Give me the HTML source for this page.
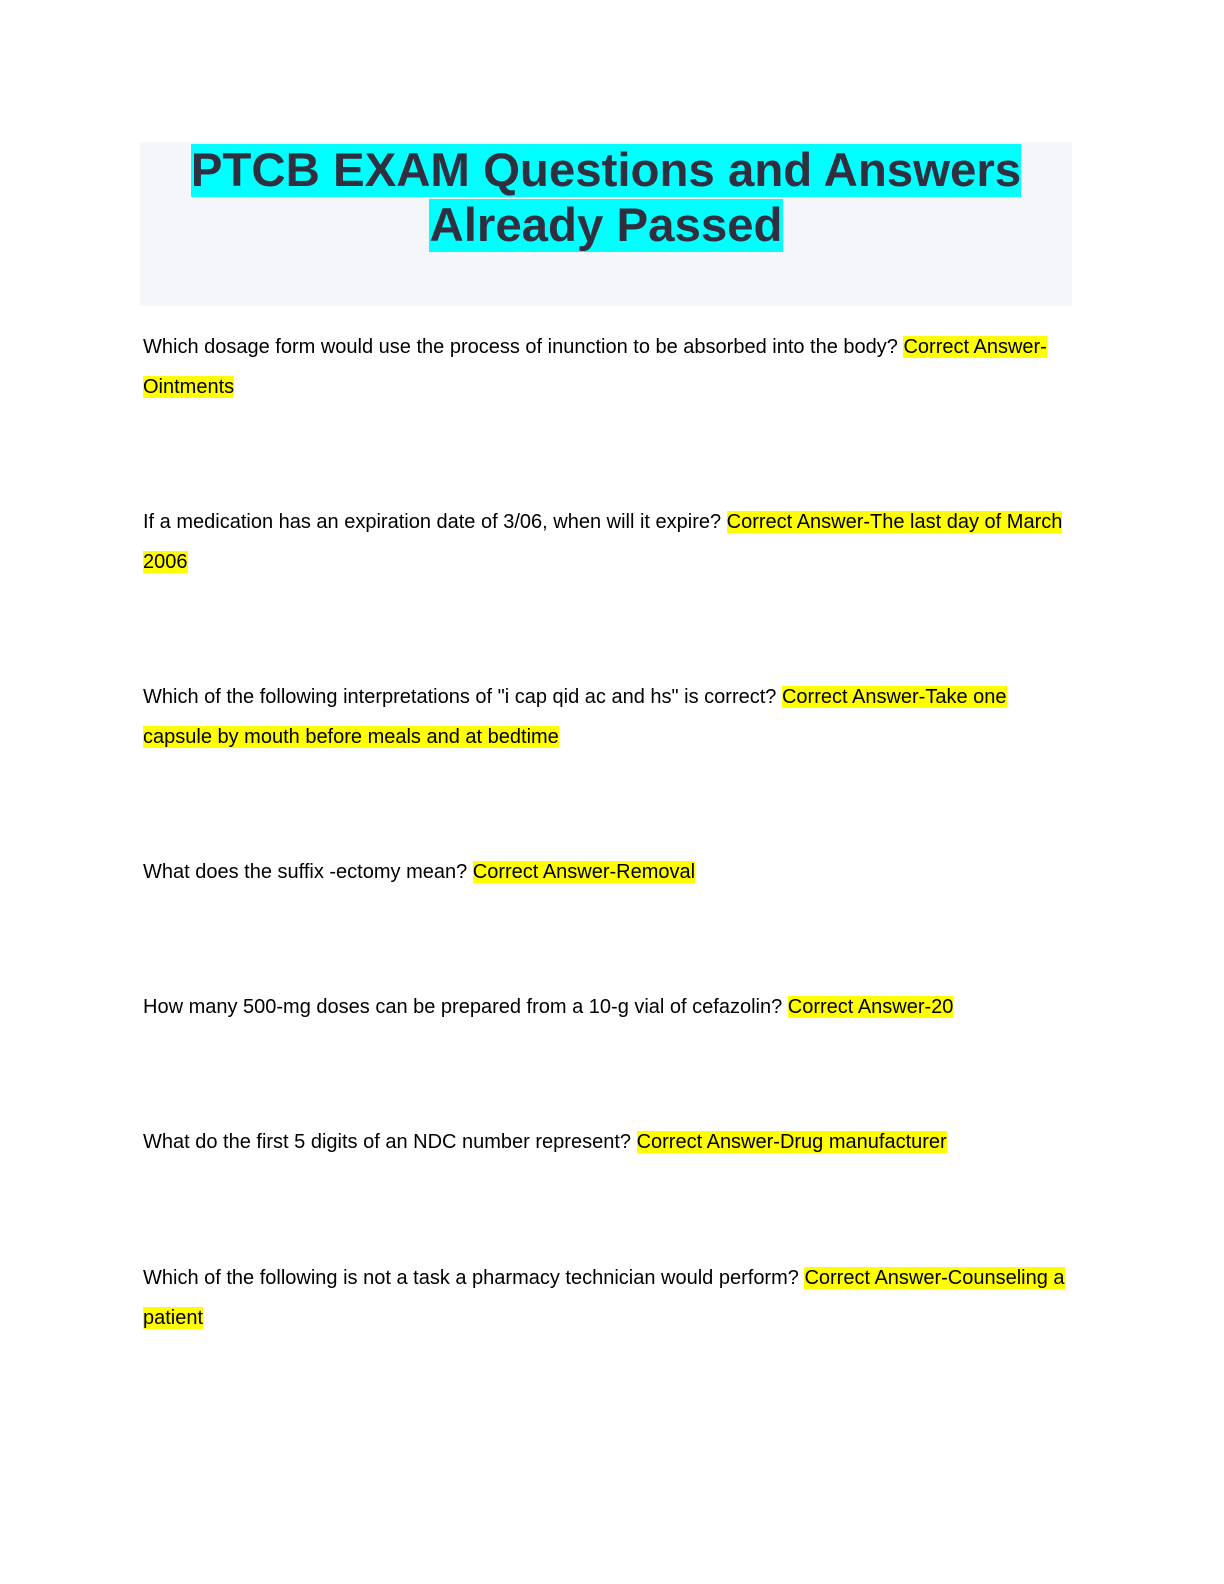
<!DOCTYPE html>
<html><head><meta charset="utf-8"><style>
body{margin:0;width:1224px;height:1584px;background:#fff;position:relative;overflow:hidden}
.tbox{position:absolute;left:140px;top:142px;width:932px;height:164px;background:#f5f6fa}
.t{position:absolute;left:140px;width:932px;text-align:center;font-family:"Liberation Sans",sans-serif;font-weight:bold;font-size:47.4px;color:#2f2f3f;line-height:55px}
.t span{background:#00ffff}
.l{position:absolute;left:143px;font-family:"Liberation Sans",sans-serif;font-size:20px;line-height:27px;height:27px;color:#000;white-space:nowrap}
.h{background:#ffff00}
</style></head><body>
<div class="tbox"></div>
<div class="t" style="top:143px"><span>PTCB EXAM Questions and Answers</span></div>
<div class="t" style="top:198px"><span>Already Passed</span></div>

<div class="l" style="top:334px">Which dosage form would use the process of inunction to be absorbed into the body? <span class="h">Correct Answer-</span></div>
<div class="l" style="top:374px"><span class="h">Ointments</span></div>

<div class="l" style="top:509px">If a medication has an expiration date of 3/06, when will it expire? <span class="h">Correct Answer-The last day of March</span></div>
<div class="l" style="top:549px"><span class="h">2006</span></div>

<div class="l" style="top:684px">Which of the following interpretations of "i cap qid ac and hs" is correct? <span class="h">Correct Answer-Take one</span></div>
<div class="l" style="top:724px"><span class="h">capsule by mouth before meals and at bedtime</span></div>

<div class="l" style="top:859px">What does the suffix -ectomy mean? <span class="h">Correct Answer-Removal</span></div>

<div class="l" style="top:994px">How many 500-mg doses can be prepared from a 10-g vial of cefazolin? <span class="h">Correct Answer-20</span></div>

<div class="l" style="top:1129px">What do the first 5 digits of an NDC number represent? <span class="h">Correct Answer-Drug manufacturer</span></div>

<div class="l" style="top:1265px">Which of the following is not a task a pharmacy technician would perform? <span class="h">Correct Answer-Counseling a</span></div>
<div class="l" style="top:1305px"><span class="h">patient</span></div>
</body></html>
